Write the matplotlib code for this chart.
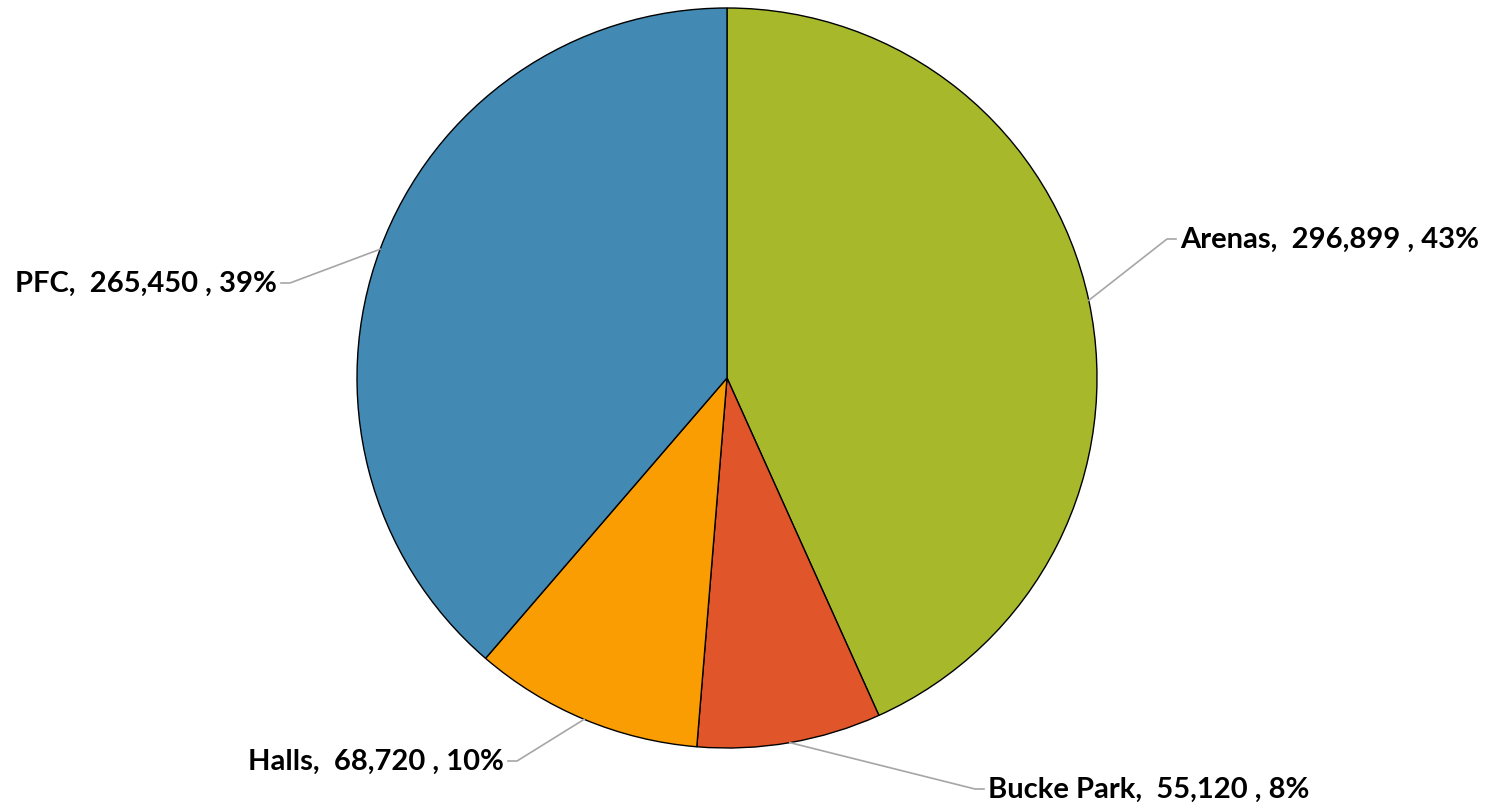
import numpy as np
import matplotlib.pyplot as plt

labels = ["Arenas", "Bucke Park", "Halls", "PFC"]
values = [296899, 55120, 68720, 265450]
colors = ["#A7B92A", "#E1552A", "#FA9D03", "#428AB3"]

# label layout: elbow point (pixels from pie centre) and text alignment
elbows = [(440, 139), (248, -411), (-210, -383), (-437, 95)]
aligns = ["left", "left", "right", "right"]

W, H = 1499, 804
cx, cy, R = 727, 804 - 379, 370

fig = plt.figure(figsize=(W / 100, H / 100), dpi=100)
ax = fig.add_axes([0, 0, 1, 1])

wedges, _ = ax.pie(values, colors=colors, startangle=90, counterclock=False,
                   center=(cx, cy), radius=R, frame=True,
                   wedgeprops=dict(edgecolor="black", linewidth=1.0))
ax.set_xlim(0, W)
ax.set_ylim(0, H)
ax.set_aspect("equal")
ax.axis("off")

total = sum(values)
for w, lab, v, (ex, ey), ha in zip(wedges, labels, values, elbows, aligns):
    mid = np.deg2rad((w.theta1 + w.theta2) / 2)
    x0 = cx + R * np.cos(mid)
    y0 = cy + R * np.sin(mid)
    x1, y1 = cx + ex, cy + ey
    dx = 9 if ha == "left" else -9
    ax.plot([x0, x1, x1 + dx], [y0, y1, y1], color="#A6A6A6", lw=1.2)
    pct = round(100 * v / total)
    ax.text(x1 + dx + (4 if ha == "left" else -4), y1,
            f"{lab},  {v:,} , {pct}%", ha=ha, va="center",
            fontsize=21, fontweight="bold", family="Lato")

fig.savefig("out.png", dpi=100)
